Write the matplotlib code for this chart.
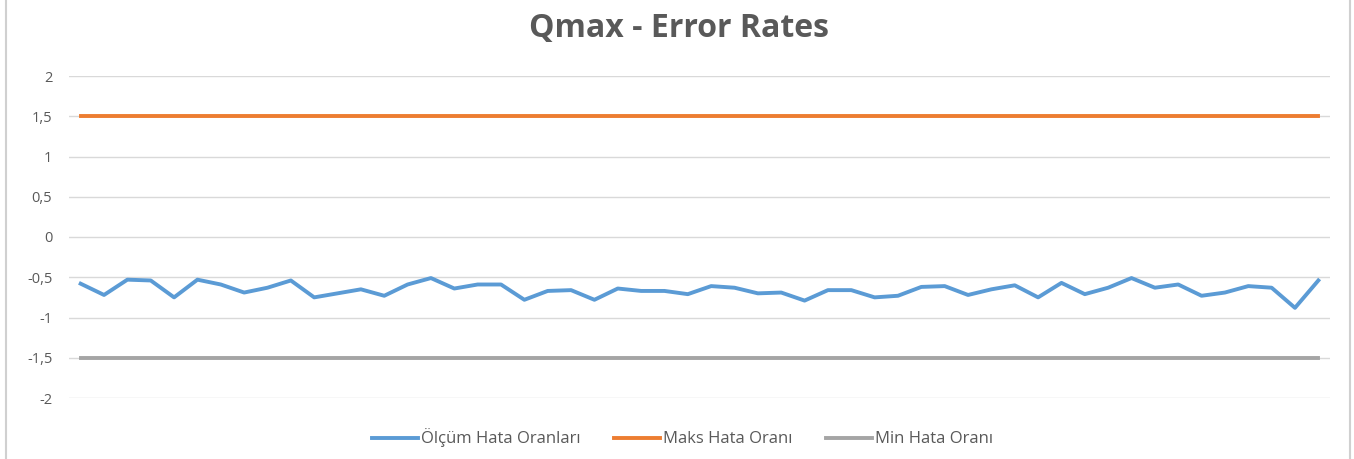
import matplotlib
matplotlib.use("Agg")
import matplotlib.pyplot as plt
from matplotlib.lines import Line2D

# Veriler
olcum_hata = [-0.58, -0.72, -0.53, -0.54, -0.75, -0.53, -0.59, -0.69, -0.63, -0.54,
              -0.75, -0.70, -0.65, -0.73, -0.59, -0.51, -0.64, -0.59, -0.59, -0.78,
              -0.67, -0.66, -0.78, -0.64, -0.67, -0.67, -0.71, -0.61, -0.63, -0.70,
              -0.69, -0.79, -0.66, -0.66, -0.75, -0.73, -0.62, -0.61, -0.72, -0.65,
              -0.60, -0.75, -0.57, -0.71, -0.63, -0.51, -0.63, -0.59, -0.73, -0.69,
              -0.61, -0.63, -0.88, -0.54]
maks_hata = [1.5] * len(olcum_hata)
min_hata = [-1.5] * len(olcum_hata)
y_ticks = [2, 1.5, 1, 0.5, 0, -0.5, -1, -1.5, -2]
y_labels = ["2", "1,5", "1", "0,5", "0", "-0,5", "-1", "-1,5", "-2"]

MAVI = "#5b9bd5"
TURUNCU = "#ed7d31"
GRI = "#a5a5a5"
YAZI = "#595959"

fig = plt.figure(figsize=(13.54, 4.59), dpi=100)
ax = fig.add_axes([69 / 1354, 1 - 398 / 459, (1330 - 69) / 1354, (398 - 76) / 459])

x = list(range(len(olcum_hata)))
ax.plot(x, olcum_hata, color=MAVI, lw=2.8, solid_joinstyle="round", zorder=3)
ax.plot(x, maks_hata, color=TURUNCU, lw=2.8, zorder=3)
ax.plot(x, min_hata, color=GRI, lw=2.8, zorder=3)

ax.set_xlim(-0.5, len(olcum_hata) - 0.5)
ax.set_ylim(-2, 2)
ax.set_yticks(y_ticks)
ax.set_yticklabels(y_labels, color=YAZI, fontsize=10.5, family="Open Sans")
ax.set_xticks([])
ax.tick_params(axis="y", length=0, pad=12)
ax.grid(axis="y", color="#d9d9d9", lw=1)
ax.set_axisbelow(True)
for s in ax.spines.values():
    s.set_visible(False)

fig.text(0.5015, 1 - 28 / 459, "Qmax - Error Rates", ha="center", va="center",
         fontsize=23, fontweight="bold", color=YAZI, family="Open Sans")

handles = [Line2D([], [], color=MAVI, lw=2.8),
           Line2D([], [], color=TURUNCU, lw=2.8),
           Line2D([], [], color=GRI, lw=2.8)]
fig.legend(handles, ["Ölçüm Hata Oranları", "Maks Hata Oranı", "Min Hata Oranı"],
           loc="center", bbox_to_anchor=(0.504, 1 - 438 / 459), ncol=3, frameon=False,
           prop={"family": "Open Sans", "size": 12}, labelcolor=YAZI,
           handlelength=2.8, handletextpad=0.15, columnspacing=2.0)

# cerceve cizgileri
fig.add_artist(Line2D([6 / 1354, 6 / 1354], [0, 1], color="#d0d0d0", lw=1.5))
fig.add_artist(Line2D([1350 / 1354, 1350 / 1354], [0, 1], color="#d0d0d0", lw=1.5))

fig.savefig("out.png", dpi=100)
